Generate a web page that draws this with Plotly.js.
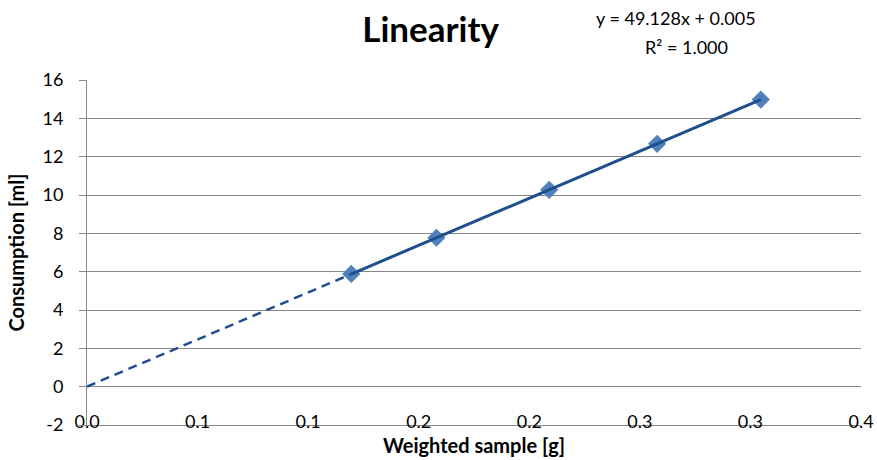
<!DOCTYPE html>
<html>
<head>
<meta charset="utf-8">
<script src="https://cdn.plot.ly/plotly-3.0.1.min.js"></script>
<style>html,body{margin:0;padding:0;background:#fff;}#chart{width:877px;height:460px;}</style>
</head>
<body>
<div id="chart"></div>
<script>
// Data
const sampleWeights = [0.1195, 0.1580, 0.2090, 0.2578, 0.3047];
const consumption = [5.88, 7.77, 10.27, 12.67, 14.98];
// Trendline coefficients as printed on the chart
const trendSlope = 49.128;
const trendIntercept = 0.005;
const trendR2 = 1.000;
// Axis ticks
const xTickVals = [0, 0.05, 0.10, 0.15, 0.20, 0.25, 0.30, 0.35];
const xTickText = ['0.0', '0.1', '0.1', '0.2', '0.2', '0.3', '0.3', '0.4'];
const yTickVals = [-2, 0, 2, 4, 6, 8, 10, 12, 14, 16];
const yTickText = ['-2', '0', '2', '4', '6', '8', '10', '12', '14', '16'];

const FONT = 'Lato, "Open Sans", sans-serif';
const GRID = '#878787';
const xMin = Math.min(...sampleWeights), xMax = Math.max(...sampleWeights);
const f = x => trendSlope * x + trendIntercept;

const traces = [
  {
    x: sampleWeights, y: consumption, type: 'scatter', mode: 'markers',
    marker: {symbol: 'diamond', size: 14, color: '#4F81BD', line: {width: 0}},
    hoverinfo: 'x+y', showlegend: false
  },
  {
    x: [0, xMin], y: [f(0), f(xMin)], type: 'scatter', mode: 'lines',
    line: {color: '#1F4E8C', width: 2.5, dash: '9px,6px'}, showlegend: false, hoverinfo: 'skip'
  },
  {
    x: [xMin, xMax], y: [f(xMin), f(xMax)], type: 'scatter', mode: 'lines',
    line: {color: '#1F4E8C', width: 3}, showlegend: false, hoverinfo: 'skip'
  }
];

const layout = {
  width: 877, height: 460,
  margin: {l: 87, r: 16, t: 80, b: 35},
  paper_bgcolor: '#fff', plot_bgcolor: '#fff',
  font: {family: FONT, color: '#000'},
  showlegend: false,
  title: {
    text: '<b>Linearity</b>', font: {family: FONT, size: 35, color: '#000'},
    x: 0.491, xref: 'container', xanchor: 'center',
    y: 0.935, yref: 'container', yanchor: 'middle'
  },
  xaxis: {
    range: [0, 0.35], tickmode: 'array', tickvals: xTickVals, ticktext: xTickText,
    showgrid: false, zeroline: false, showline: true, linecolor: GRID, linewidth: 1,
    ticks: '', tickfont: {family: FONT, size: 18, color: '#000'},
    ticklabelstandoff: -20,
    title: {text: '<b>Weighted sample [g]</b>', font: {family: FONT, size: 20, color: '#000'}, standoff: 8}
  },
  xaxis2: {
    overlaying: 'x', anchor: 'free', position: 2 / 18, side: 'bottom',
    range: [0, 0.35], tickmode: 'array', tickvals: xTickVals, showticklabels: false,
    ticks: 'outside', ticklen: 7, tickcolor: GRID, tickwidth: 1,
    showline: true, linecolor: GRID, linewidth: 1, showgrid: false, zeroline: false
  },
  yaxis: {
    range: [-2, 16], tickmode: 'array', tickvals: yTickVals, ticktext: yTickText,
    showgrid: true, gridcolor: GRID, gridwidth: 1, zeroline: false,
    showline: true, linecolor: GRID, linewidth: 1,
    ticks: 'outside', ticklen: 7, tickcolor: GRID, tickwidth: 1,
    tickfont: {family: FONT, size: 18, color: '#000'}, ticklabelstandoff: 12,
    title: {text: '<b>Consumption [ml]</b>', font: {family: FONT, size: 20, color: '#000'}, standoff: 12}
  },
  annotations: [
    {
      text: 'y = ' + trendSlope.toFixed(3) + 'x + ' + trendIntercept.toFixed(3),
      xref: 'paper', yref: 'paper', x: 0.761, y: 1.18, xanchor: 'center', yanchor: 'middle',
      showarrow: false, font: {family: FONT, size: 18, color: '#000'}
    },
    {
      text: 'R² = ' + trendR2.toFixed(3),
      xref: 'paper', yref: 'paper', x: 0.774, y: 1.096, xanchor: 'center', yanchor: 'middle',
      showarrow: false, font: {family: FONT, size: 18, color: '#000'}
    }
  ]
};

Plotly.newPlot('chart', traces, layout, {displayModeBar: false, staticPlot: true});
</script>
</body>
</html>
